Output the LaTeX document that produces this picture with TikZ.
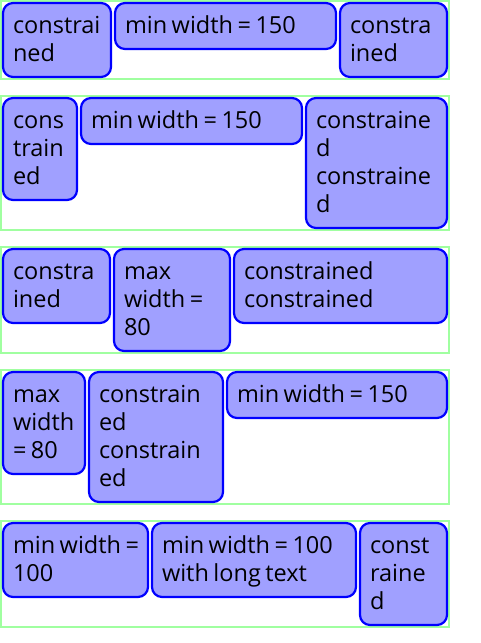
\documentclass[tikz,border=0pt]{standalone}
\usepackage{fontspec}
\setmainfont{Open Sans}
\usepackage{xcolor}
\usepackage{tikz}
\definecolor{cellfill}{RGB}{160,160,255}
\definecolor{cellline}{RGB}{0,0,255}
\definecolor{rowline}{RGB}{160,255,160}
\newcommand{\cellstrut}{\rule[-7pt]{0pt}{28pt}}
\newcommand{\cellfont}{\fontsize{23.5}{28}\selectfont}
\newcommand{\wsp}{\nobreak\hskip4.5pt\relax}
\hyphenpenalty=10000
\exhyphenpenalty=10000

\begin{document}
\begin{tikzpicture}[x=1pt, y=-1pt,
    cell/.style={draw=cellline, fill=cellfill, line width=2.2pt, rounded corners=10pt,
      anchor=north west, outer sep=0pt, inner xsep=10pt, inner ysep=9pt,
      text width=#1, align=left, font=\cellfont,
      execute at begin node=\cellstrut, execute at end node=\cellstrut},
    row/.style={draw=rowline, line width=2pt}]
    \useasboundingbox (0,0) rectangle (480,643);
    \draw[row] (1,1) rectangle (449,79);
    \draw[row] (1,96) rectangle (449,230);
    \draw[row] (1,247) rectangle (449,353);
    \draw[row] (1,370) rectangle (449,504);
    \draw[row] (1,521) rectangle (449,627);
    \node[cell=88pt] (r1a) at (3,3) {constrai\\ned};
    \node[cell=201pt] (r1b) at (115,3) {min\wsp width\wsp=\wsp150};
    \node[cell=87pt] (r1c) at (340,3) {constra\\ined};
    \node[cell=54pt] (r2a) at (3,98) {cons\\train\\ed};
    \node[cell=201pt] (r2b) at (81,98) {min\wsp width\wsp=\wsp150};
    \node[cell=121pt] (r2c) at (306,98) {constraine\\d\\constraine\\d};
    \node[cell=87pt] (r3a) at (3,249) {constra\\ined};
    \node[cell=96pt] (r3b) at (114,249) {max\\width\wsp=\\80};
    \node[cell=193pt] (r3c) at (234,249) {constrained\\constrained};
    \node[cell=62pt] (r4a) at (3,372) {max\\width\\=\wsp80};
    \node[cell=114pt] (r4b) at (89,372) {constrain\\ed\\constrain\\ed};
    \node[cell=200pt] (r4c) at (227,372) {min\wsp width\wsp=\wsp150};
    \node[cell=125pt] (r5a) at (3,523) {min\wsp width\wsp=\\100};
    \node[cell=184pt] (r5b) at (152,523) {min\wsp width\wsp=\wsp100\\with\wsp long\wsp text};
    \node[cell=67pt] (r5c) at (360,523) {const\\raine\\d};
\end{tikzpicture}
\end{document}
